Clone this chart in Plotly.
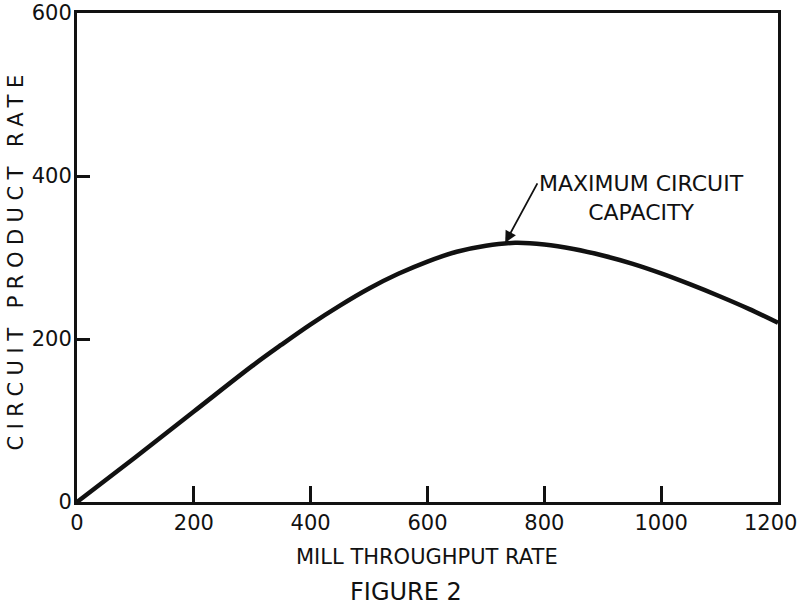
import plotly.graph_objects as go

# Data
mill_throughput = [0, 100, 200, 300, 350, 400, 450, 500, 550, 600, 650, 700, 750,
                   800, 850, 900, 950, 1000, 1050, 1100, 1150, 1200]
circuit_product = [0, 55, 111, 167, 193, 218, 241, 262, 280, 295, 307, 314.5, 318,
                   316, 310.5, 302.5, 292.5, 280.5, 267, 252.5, 237, 220]

x_ticks = [0, 200, 400, 600, 800, 1000, 1200]
x_tick_labels = ["0", "200", "400", "600", "800", "1000", "1200"]
y_ticks = [0, 200, 400, 600]
y_tick_labels = ["0", "200", "400", "600"]

x_title = "MILL THROUGHPUT RATE"
y_title = "CIRCUIT PRODUCT RATE"
figure_caption = "FIGURE 2"
peak_label = "MAXIMUM CIRCUIT<br>CAPACITY"
peak_point = (733, 318)
label_point = (967, 373)

FONT = "DejaVu Sans, Liberation Sans, sans-serif"
INK = "#111111"

fig = go.Figure()
fig.add_trace(go.Scatter(
    x=mill_throughput, y=circuit_product, mode="lines",
    line=dict(color=INK, width=4.5, shape="spline", smoothing=1.0),
    showlegend=False, hoverinfo="skip",
))

axis_common = dict(
    showgrid=False, zeroline=False, showline=True, linecolor=INK, linewidth=3,
    mirror=True, ticks="inside", tickcolor=INK, tickwidth=2.5, automargin=False,
    ticklabeloverflow="allow",
    tickfont=dict(family=FONT, size=21, color=INK),
)

# last x tick label is drawn as an annotation so it is not cut at the page edge
fig.update_xaxes(
    range=[0, 1200], tickvals=x_ticks, ticktext=x_tick_labels[:-1] + [""],
    ticklen=16, ticklabelstandoff=0,
    **axis_common,
)
fig.update_yaxes(
    range=[0, 600], tickvals=y_ticks, ticktext=y_tick_labels,
    ticklen=13, ticklabelstandoff=-2,
    **axis_common,
)

fig.add_annotation(
    x=1, y=0, xref="paper", yref="paper", text=x_tick_labels[-1],
    showarrow=False, xanchor="center", yanchor="middle", xshift=-8, yshift=-21,
    font=dict(family=FONT, size=21, color=INK),
)

# axis titles
fig.add_annotation(
    x=0.499, y=0, xref="paper", yref="paper", text=x_title,
    showarrow=False, xanchor="center", yanchor="middle", yshift=-55,
    font=dict(family=FONT, size=21, color=INK),
)
fig.add_annotation(
    x=0, y=0.5, xref="paper", yref="paper", text=y_title, textangle=-90,
    showarrow=False, xanchor="center", yanchor="middle", xshift=-62, yshift=-2,
    font=dict(family=FONT, size=21, color=INK),
)

fig.add_annotation(
    x=peak_point[0], y=peak_point[1], xref="x", yref="y", text="",
    showarrow=True, ax=33, ay=-61, arrowhead=2, arrowsize=1.3, arrowwidth=1.8,
    arrowcolor=INK, standoff=0,
)
fig.add_annotation(
    x=label_point[0], y=label_point[1], xref="x", yref="y", text=peak_label,
    showarrow=False, align="center", xanchor="center", yanchor="middle",
    font=dict(family=FONT, size=22, color=INK),
)
fig.add_annotation(
    x=0.469, y=0, xref="paper", yref="paper", text=figure_caption,
    showarrow=False, xanchor="center", yanchor="middle", yshift=-90,
    font=dict(family=FONT, size=24, color=INK),
)

fig.update_layout(
    width=800, height=611,
    margin=dict(l=77, r=22, t=13, b=109, autoexpand=False),
    paper_bgcolor="white", plot_bgcolor="white",
    showlegend=False,
)

fig.write_html(
    "out.html",
    config={"displayModeBar": False},
    post_script=(
        "document.body.style.margin='0';"
        "document.querySelectorAll('.annotation-text').forEach(function(e){"
        "if(e.textContent==='CIRCUIT PRODUCT RATE'){e.style.letterSpacing='6.5px';}});"
    ),
)
